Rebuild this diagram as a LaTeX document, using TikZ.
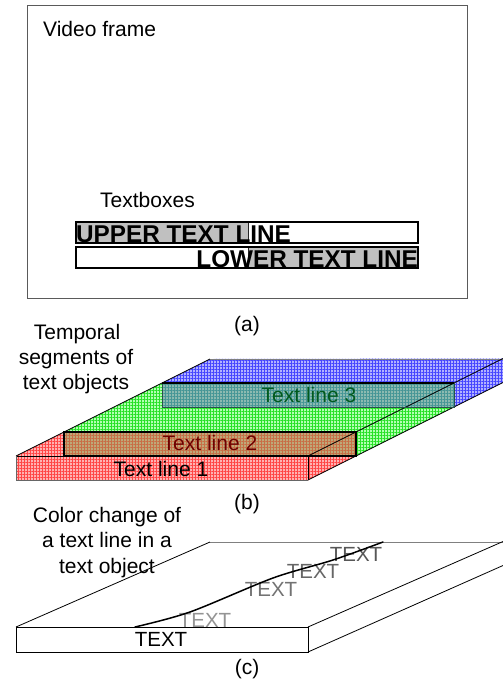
\documentclass[tikz,border=0pt]{standalone}
\usepackage{fontspec}
\setmainfont{Liberation Sans}
\usetikzlibrary{patterns.meta}
\definecolor{framecol}{RGB}{90,90,90}
\definecolor{boxgray}{RGB}{192,192,192}
\definecolor{redbg}{RGB}{255,178,178}
\definecolor{redln}{RGB}{255,70,70}
\definecolor{greenbg}{RGB}{178,255,178}
\definecolor{greenln}{RGB}{40,225,40}
\definecolor{bluebg}{RGB}{178,178,255}
\definecolor{blueln}{RGB}{70,70,255}
\definecolor{brownbg}{RGB}{190,168,120}
\definecolor{brownln}{RGB}{200,110,70}
\definecolor{tealbg}{RGB}{140,186,176}
\definecolor{tealln}{RGB}{70,150,150}
\definecolor{tealdark}{RGB}{40,80,75}
\definecolor{darkred}{RGB}{110,0,0}
\definecolor{darkgreen}{RGB}{0,90,30}
\begin{document}
\begin{tikzpicture}[x=1pt,y=-1pt,
  lbl/.style={inner sep=0pt, anchor=base, font=\fontsize{21}{25}\selectfont},
  gtxt/.style={inner sep=0pt, anchor=base, font=\fontsize{20.5}{24}\selectfont},
  bldtxt/.style={inner sep=0pt, font=\bfseries\fontsize{24.3}{28}\selectfont},
  edgeline/.style={draw=black, line width=0.8pt},
  backline/.style={draw=gray, line width=0.8pt},
  hatchp/.style={postaction={pattern={Hatch[distance=3pt,line width=0.5pt]}, pattern color=#1}},
  segR/.style={fill=redbg, hatchp=redln},
  segG/.style={fill=greenbg, hatchp=greenln},
  segB/.style={fill=bluebg, hatchp=blueln},
  segRG/.style={fill=brownbg, hatchp=brownln},
  segGB/.style={fill=tealbg, hatchp=tealln}
]
\useasboundingbox (0,0) rectangle (503,681);
\fill[white] (0,0) rectangle (503,681);

% ---------- (a) ----------
\draw[framecol, line width=1pt] (27,5) rectangle (467,298);
\node[lbl, anchor=base west] (vf) at (43,36) {Video frame};
\node[lbl, anchor=base west] (tb) at (100,207) {Textboxes};
\fill[boxgray] (76,222) rectangle (248,243);
\fill[boxgray] (248,247) rectangle (418,268);
\draw[line width=0.8pt, black!85] (248,222) -- (248,243);
\draw[line width=0.8pt, black!85] (248,247) -- (248,268);
\node[bldtxt, anchor=base west] (up) at (76,242) {UPPER TEXT LINE};
\node[bldtxt, anchor=base east] (lo) at (418,267) {LOWER TEXT LINE};
\draw[line width=1.5pt] (76,222) rectangle (418,243);
\draw[line width=1.5pt] (76,247) rectangle (418,268);
\node[lbl] (la) at (247,331) {(a)};

% ---------- (b) ----------
\node[lbl] (t1) at (77,339) {Temporal};
\node[lbl] (t2) at (76,364) {segments of};
\node[lbl] (t3) at (76,389) {text objects};
% red segment
\path[segR] (16,456) -- (308,456) -- (356,432) -- (64,432) -- cycle;
\path[segR] (308,456) -- (356,432) -- (356,456) -- (308,480) -- cycle;
\path[segR] (16,456) rectangle (308,480);
% green segment
\path[segG] (64,432) -- (356,432) -- (454,383) -- (162,383) -- cycle;
\path[segG] (356,432) -- (454,383) -- (454,407) -- (356,456) -- cycle;
% blue segment
\path[segB] (162,383) -- (454,383) -- (503,358.5) -- (210,359) -- cycle;
\path[segB] (454,383) -- (503,358.5) -- (503,382.5) -- (454,407) -- cycle;
% cross sections
\path[segRG] (64,432) rectangle (356,456);
\path[segGB] (162,383) rectangle (454,407);
% edges
\draw[backline] (210,359) -- (503,359);
\draw[edgeline] (16,456) -- (210,359);
\draw[edgeline] (308,456) -- (503,358.5);
\draw[edgeline] (308,480) -- (503,382.5);
\draw[edgeline] (16,456) -- (308,456) -- (308,480);
\draw[line width=0.5pt, black!60] (16,456) -- (16,480) -- (308,480);
\draw[line width=1.2pt] (64,432) rectangle (356,456);
\draw[line width=1pt, tealdark] (162,407) -- (162,383);
\draw[line width=1pt, tealdark] (454,383) -- (454,407) -- (162,407);
\draw[line width=1.2pt] (162,383) -- (454,383);
\node[lbl] (l1) at (161,476) {Text line 1};
\node[lbl, text=darkred] (l2) at (210,450) {Text line 2};
\node[lbl, text=darkgreen] (l3) at (309,402) {Text line 3};
\node[lbl] (lb) at (247,509) {(b)};

% ---------- (c) ----------
\node[lbl] (c1) at (107,522) {Color change of};
\node[lbl] (c2) at (107,547) {a text line in a};
\node[lbl] (c3) at (107,573) {text object};
\draw[backline] (210,542) -- (503,542);
\draw[edgeline] (16,627) -- (210,542);
\node[gtxt, text=black!42] (g1) at (205,627) {TEXT};
\node[gtxt, text=black!55] (g2) at (271,596) {TEXT};
\node[gtxt, text=black!60] (g3) at (313,578) {TEXT};
\node[gtxt, text=black!66] (g4) at (356,561) {TEXT};
\draw[line width=1.5pt, line cap=round] plot[smooth, tension=0.5] coordinates {(135,627) (190,612) (273,578) (333,560) (383,542)};
\filldraw[fill=white, draw=black, line width=0.8pt] (16,627) rectangle (308,652);
\draw[edgeline] (308,627) -- (503,541.5);
\draw[edgeline] (308,652) -- (503,565.5);
\node[gtxt] (tx) at (161,646) {TEXT};
\node[lbl] (lc) at (247,674) {(c)};
\end{tikzpicture}
\end{document}
